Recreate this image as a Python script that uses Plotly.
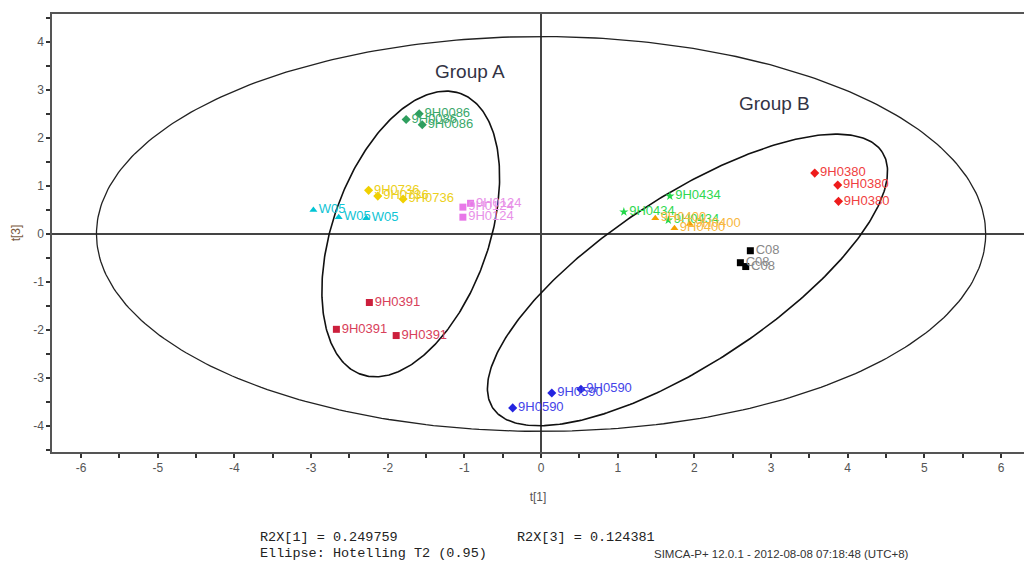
import numpy as np
import plotly.graph_objects as go

# ---- data ----
groups = ["9H0086", "9H0736", "W05", "9H0124", "9H0391", "9H0590", "9H0434", "9H0400", "9H0380", "C08"]
t1_9H0086 = [-1.76, -1.59, -1.55]
t3_9H0086 = [2.39, 2.51, 2.28]
t1_9H0736 = [-2.25, -2.13, -1.80]
t3_9H0736 = [0.91, 0.79, 0.73]
t1_W05 = [-2.97, -2.64, -2.28]
t3_W05 = [0.50, 0.35, 0.33]
t1_9H0124 = [-1.02, -0.92, -1.02]
t3_9H0124 = [0.56, 0.64, 0.35]
t1_9H0391 = [-2.24, -2.67, -1.89]
t3_9H0391 = [-1.43, -1.99, -2.12]
t1_9H0590 = [-0.37, 0.14, 0.52]
t3_9H0590 = [-3.63, -3.32, -3.24]
t1_9H0434 = [1.68, 1.08, 1.66]
t3_9H0434 = [0.79, 0.46, 0.29]
t1_9H0400 = [1.49, 1.74, 1.94]
t3_9H0400 = [0.33, 0.12, 0.21]
t1_9H0380 = [3.57, 3.87, 3.88]
t3_9H0380 = [1.27, 1.02, 0.68]
t1_C08 = [2.73, 2.60, 2.67]
t3_C08 = [-0.35, -0.60, -0.68]

x_ticks = [-6, -5, -4, -3, -2, -1, 0, 1, 2, 3, 4, 5, 6]
x_ticklabels = ["-6", "-5", "-4", "-3", "-2", "-1", "0", "1", "2", "3", "4", "5", "6"]
y_ticks = [-4, -3, -2, -1, 0, 1, 2, 3, 4]
y_ticklabels = ["-4", "-3", "-2", "-1", "0", "1", "2", "3", "4"]

# Hotelling T2 ellipse semi-axes
hot_a, hot_b = 5.8, 4.12
# group ellipses: center, axis vector u, axis vector v
grpA_center = (-1.70, 0.0)
grpA_u = (0.65, 2.93)
grpA_v = (0.96, -0.55)
grpB_center = (1.91, -0.96)
grpB_u = (2.54, 2.67)
grpB_v = (0.60, -1.46)

series = {
    "9H0086": (t1_9H0086, t3_9H0086, "#2e9e5e", "#3aa86a", "diamond"),
    "9H0736": (t1_9H0736, t3_9H0736, "#f0d000", "#ecd020", "diamond"),
    "W05": (t1_W05, t3_W05, "#00c4d4", "#10c4d4", "triangle-up"),
    "9H0124": (t1_9H0124, t3_9H0124, "#e878e8", "#e890e8", "square"),
    "9H0391": (t1_9H0391, t3_9H0391, "#cc1f3c", "#d8405a", "square"),
    "9H0590": (t1_9H0590, t3_9H0590, "#2424e0", "#4444e8", "diamond"),
    "9H0434": (t1_9H0434, t3_9H0434, "#22d84a", "#30d850", "star"),
    "9H0400": (t1_9H0400, t3_9H0400, "#f5a000", "#f8b840", "triangle-up"),
    "9H0380": (t1_9H0380, t3_9H0380, "#ee1c1c", "#f04040", "diamond"),
    "C08": (t1_C08, t3_C08, "#000000", "#888888", "square"),
}

fig = go.Figure()

t = np.linspace(0, 2 * np.pi, 361)
fig.add_trace(go.Scatter(x=hot_a * np.cos(t), y=hot_b * np.sin(t), mode="lines",
                         line=dict(color="#222222", width=1.3), hoverinfo="skip", showlegend=False))
for c, u, v in [(grpA_center, grpA_u, grpA_v), (grpB_center, grpB_u, grpB_v)]:
    ex = c[0] + u[0] * np.cos(t) + v[0] * np.sin(t)
    ey = c[1] + u[1] * np.cos(t) + v[1] * np.sin(t)
    fig.add_trace(go.Scatter(x=ex, y=ey, mode="lines",
                             line=dict(color="#111111", width=1.6), hoverinfo="skip", showlegend=False))

for name in groups:
    xs, ys, mcol, tcol, sym = series[name]
    fig.add_trace(go.Scatter(x=xs, y=ys, mode="markers+text", text=[name] * len(xs),
                             textposition="middle right",
                             textfont=dict(family="Arial", size=13, color=tcol),
                             marker=dict(color=mcol, symbol=sym, size=7),
                             name=name, showlegend=False))

fig.add_annotation(x=-0.93, y=3.4, text="Group A", showarrow=False,
                   font=dict(family="Arial", size=19, color="#333344"))
fig.add_annotation(x=3.05, y=2.72, text="Group B", showarrow=False,
                   font=dict(family="Arial", size=19, color="#333344"))

mono = dict(family="Liberation Mono, Courier New, monospace", size=13.5, color="#222222")
fig.add_annotation(xref="paper", yref="paper", x=(258 - 52) / 972, y=-(537 - 452) / 438,
                   xanchor="left", yanchor="middle", text="R2X[1] = 0.249759", showarrow=False, font=mono)
fig.add_annotation(xref="paper", yref="paper", x=(515 - 52) / 972, y=-(537 - 452) / 438,
                   xanchor="left", yanchor="middle", text="R2X[3] = 0.124381", showarrow=False, font=mono)
fig.add_annotation(xref="paper", yref="paper", x=(258 - 52) / 972, y=-(553 - 452) / 438,
                   xanchor="left", yanchor="middle", text="Ellipse: Hotelling T2 (0.95)", showarrow=False, font=mono)
fig.add_annotation(xref="paper", yref="paper", x=(652 - 52) / 972, y=-(554 - 452) / 438,
                   xanchor="left", yanchor="middle", text="SIMCA-P+ 12.0.1 - 2012-08-08 07:18:48 (UTC+8)",
                   showarrow=False, font=dict(family="Arial", size=11.5, color="#333333"))

fig.update_layout(
    width=1024, height=565,
    margin=dict(l=52, r=0, t=14, b=113),
    paper_bgcolor="white", plot_bgcolor="white",
    xaxis=dict(range=[-6.38, 6.3], tickvals=x_ticks, ticktext=x_ticklabels, ticks="outside", ticklen=4,
               tickwidth=1.5, tickcolor="#333333", showline=True, linecolor="#555555", linewidth=1.5,
               mirror=True, showgrid=False, zeroline=True, zerolinecolor="#444444", zerolinewidth=1.5,
               tickfont=dict(family="Arial", size=12, color="#555555"),
               minor=dict(dtick=0.5, ticks="outside", ticklen=4, tickcolor="#333333", tickwidth=1.5),
               title=dict(text="t[1]", font=dict(family="Arial", size=12, color="#555555"), standoff=18)),
    yaxis=dict(range=[-4.55, 4.59], tickvals=y_ticks, ticktext=y_ticklabels, ticks="outside", ticklen=4,
               tickwidth=1.5, tickcolor="#333333", showline=True, linecolor="#555555", linewidth=1.5,
               mirror=False, showgrid=False, zeroline=True, zerolinecolor="#444444", zerolinewidth=1.5,
               tickfont=dict(family="Arial", size=12, color="#555555"),
               minor=dict(dtick=0.5, ticks="outside", ticklen=4, tickcolor="#333333", tickwidth=1.5),
               title=dict(text="t[3]", font=dict(family="Arial", size=12, color="#7a5a40"), standoff=10)),
)

fig.write_html("out.html")
